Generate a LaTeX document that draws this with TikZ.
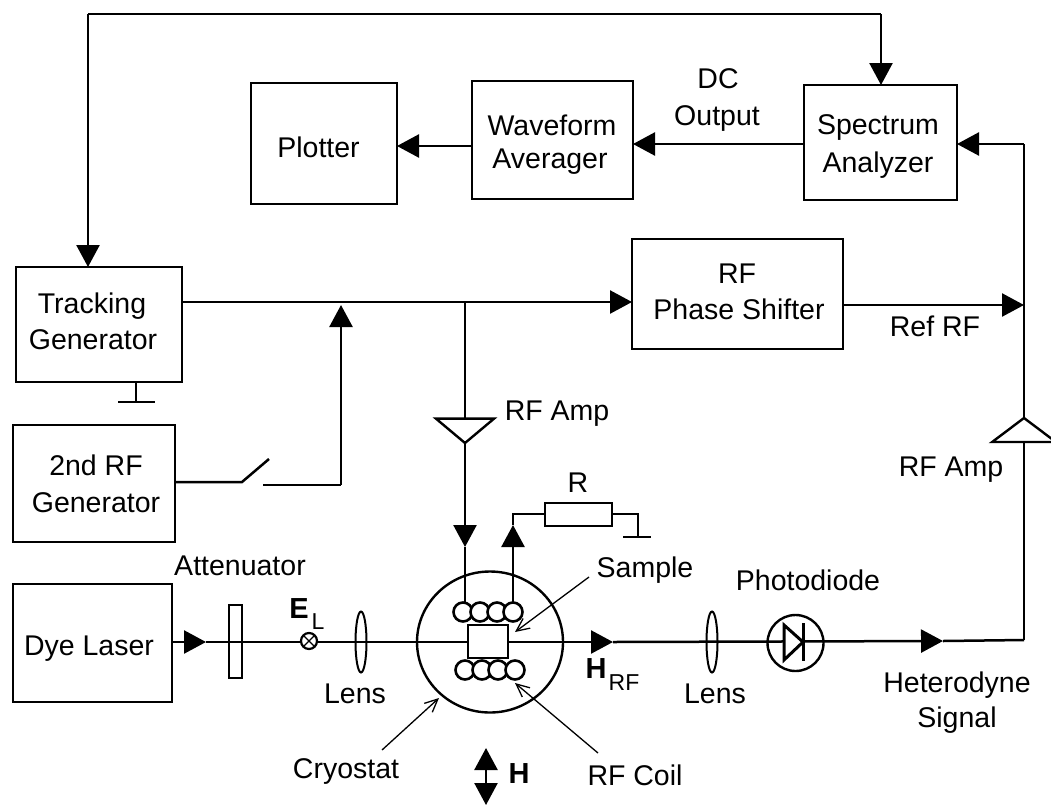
\documentclass[tikz,border=0pt]{standalone}
\usepackage{fontspec}
\setmainfont{Liberation Sans}
\usetikzlibrary{arrows.meta,shapes.geometric}
\tikzset{
  wire/.style={line width=2.5pt,draw=black},
  arr/.style={wire,-{Triangle[length=22pt,width=23pt]}},
  thin wire/.style={line width=1.3pt,draw=black},
  pointer/.style={thin wire,-{Straight Barb[length=13pt,width=12pt]}},
  box/.style={draw=black,line width=2.3pt,rectangle,inner sep=0pt,outer sep=0pt,fill=white},
  txt/.style={font=\fontsize{28.5}{28.5}\selectfont,inner sep=0pt,anchor=center,text height=20pt,text depth=0pt},
  bold/.style={font=\fontsize{29}{29}\selectfont\bfseries,inner sep=0pt,anchor=center,text height=21pt,text depth=0pt},
  small/.style={font=\fontsize{23}{23}\selectfont,inner sep=0pt,anchor=center,text height=16pt,text depth=0pt},
  coil/.style={circle,draw=black,line width=2.6pt,minimum size=19pt,inner sep=0pt,outer sep=0pt,fill=white},
  lens/.style={ellipse,draw=black,line width=2pt,inner sep=0pt,outer sep=0pt},
  amp/.style={isosceles triangle,draw=black,line width=2.4pt,fill=white,inner sep=0pt,outer sep=0pt,anchor=apex},
}
\newcommand{\rectnode}[5]{%
  \node[box,minimum width=#4pt-#2pt,minimum height=#5pt-#3pt] (#1) at ({(#2+#4)/2},{(#3+#5)/2}) {};}
\begin{document}
\begin{tikzpicture}[x=1pt,y=-1pt]
\useasboundingbox (0,0) rectangle (1051,806);
% ---- boxes
\rectnode{plot}{251}{83}{397}{204}
\rectnode{wave}{472}{81}{633}{199}
\rectnode{spec}{804}{85}{957}{200}
\rectnode{track}{16}{267}{182}{382}
\rectnode{phase}{632}{239}{843}{349}
\rectnode{second}{13}{425}{175}{542}
\rectnode{dye}{13}{584}{172}{702}
\node[txt] (tplot) at (318.5,147) {Plotter};
\node[txt] (twave1) at (552,125) {Waveform};
\node[txt] (twave2) at (550,158) {Averager};
\node[txt] (tspec1) at (878,124) {Spectrum};
\node[txt] (tspec2) at (878,162) {Analyzer};
\node[txt] (ttrack1) at (92,303) {Tracking};
\node[txt] (ttrack2) at (93,339) {Generator};
\node[txt] (tphase1) at (737,273) {RF};
\node[txt] (tphase2) at (739,309) {Phase Shifter};
\node[txt] (tsec1) at (96,465) {2nd RF};
\node[txt] (tsec2) at (96,502) {Generator};
\node[txt] (tdye) at (89,645) {Dye Laser};
% ---- coordinates
\coordinate (topL) at (88,14);
\coordinate (topR) at (881,14);
\coordinate (y146) at (0,146);
\coordinate (y144) at (0,144);
\coordinate (trunk) at (1024,640);
\coordinate (trunkTop) at (1024,144);
\coordinate (jRef) at (1024,305);
\coordinate (y302) at (0,302);
\coordinate (y305) at (0,305);
\coordinate (branch) at (465,302);
\coordinate (merge) at (341,305);
% ---- top feedback loop
\draw[wire] (topL) -- (topR);
\draw[arr] (topL) -- (topL |- track.north);
\draw[arr] (topR) -- (topR |- spec.north);
% ---- upper chain
\draw[arr] (spec.west |- y144) -- (wave.east |- y144);
\draw[arr] (wave.west |- y146) -- (plot.east |- y146);
\draw[wire] (track.east |- y302) -- (branch);
\draw[arr] (branch) -- (phase.west |- y302);
\draw[arr] (phase.east |- y305) -- (jRef);
% ---- ground under tracking generator
\coordinate (g1) at (136,402); \coordinate (g1a) at (118,402); \coordinate (g1b) at (155,402);
\draw[wire] (track.south -| g1) -- (g1);
\draw[wire] (g1a) -- (g1b);
% ---- 2nd generator and switch
\coordinate (sw1) at (242,482); \coordinate (sw2) at (269,459); \coordinate (sw3) at (263,485); \coordinate (sw4) at (341,485);
\draw[wire] (second.east |- sw1) -- (sw1) -- (sw2);
\draw[wire] (sw3) -- (sw4);
\draw[arr] (sw4) -- (merge);
% ---- RF amp (down)
\node[amp,isosceles triangle apex angle=100,shape border rotate=-90,minimum width=58pt,minimum height=24pt] (ampd) at (465,443) {};
\draw[wire] (branch) -- (branch |- ampd.north);
\coordinate (coilin) at (465,547);
\draw[arr] (ampd.apex) -- (coilin);
% ---- RF amp (up)
\node[amp,isosceles triangle apex angle=106,shape border rotate=90,minimum width=56pt,minimum height=24pt] (ampu) at (1024,418) {};
% ---- cryostat and beam
\node[ellipse,draw=black,line width=2.4pt,minimum width=146pt,minimum height=141pt,inner sep=0pt,outer sep=0pt] (cryo) at (490,642) {};
\coordinate (b0) at (206,642);
\coordinate (b1) at (613,642);
\coordinate (b2) at (943,641);
\draw[arr] (dye.east |- b0) -- (b0);
\draw[wire] (b0) -- (cryo.east |- b1);
\draw[arr] (cryo.east |- b1) -- (b1);
\draw[arr] (b1) -- (b2);
\draw[wire] (b2) -- (trunk);
\draw[wire] (trunk) -- (trunk |- ampu.south);
\draw[wire] (ampu.apex) -- (jRef);
\draw[wire] (jRef) -- (trunkTop);
\draw[arr] (trunkTop) -- (spec.east |- trunkTop);
% ---- attenuator
\node[rectangle,draw=black,line width=2.3pt,inner sep=0pt,outer sep=0pt,minimum width=13pt,minimum height=73pt] (att) at (235.5,641.5) {};
% ---- lenses, E field
\node[lens,minimum width=11pt,minimum height=61pt] (lens1) at (361,642) {};
\node[lens,minimum width=11pt,minimum height=61pt] (lens2) at (712,642) {};
\node[circle,draw=black,line width=2.2pt,fill=white,minimum size=16pt,inner sep=0pt,outer sep=0pt] (el) at (309,641) {};
\draw[thin wire] (el.north west) -- (el.south east) (el.north east) -- (el.south west);
% ---- sample & coils
\node[box,minimum width=40pt,minimum height=33pt] (samp) at (488,641.5) {};
\coordinate (ret) at (513,525); \coordinate (retc) at (513,514);
\draw[wire] (coilin) -- (465,604);
\node[coil] (c1) at (463,612) {};
\node[coil] (c2) at (480,612) {};
\node[coil] (c3) at (497,612) {};
\node[coil] (c4) at (513,612) {};
\node[coil] (d1) at (465,670) {};
\node[coil] (d2) at (482,670) {};
\node[coil] (d3) at (498,670) {};
\node[coil] (d4) at (515,670) {};
\draw[arr] (c4.north -| ret) -- (ret);
% ---- resistor
\node[box,minimum width=67pt,minimum height=23pt] (res) at (578.5,514.5) {};
\draw[wire] (ret) -- (retc) -- (res.west |- retc);
\coordinate (gr) at (638,514); \coordinate (gr2) at (638,537);
\coordinate (gra) at (623,537); \coordinate (grb) at (651,537);
\draw[wire] (res.east |- gr) -- (gr) -- (gr2);
\draw[wire] (gra) -- (grb);
% ---- photodiode
\coordinate (dA) at (784,625); \coordinate (dB) at (784,660); \coordinate (dC) at (803,642);
\coordinate (dD) at (803,623); \coordinate (dE) at (803,661);
\node[circle,draw=black,line width=2.4pt,minimum size=56pt,inner sep=0pt,outer sep=0pt] (pd) at (795.5,643) {};
\draw[line width=3pt,draw=black,fill=white,line join=miter] (dA) -- (dC) -- (dB) -- cycle;
\draw[line width=3pt,draw=black] (dD) -- (dE);
% ---- H double arrow
\coordinate (hT) at (486,748); \coordinate (hB) at (486,805); \coordinate (hM) at (486,777);
\draw[arr] (hM) -- (hT);
\draw[arr] (hM) -- (hB);
% ---- pointers
\coordinate (ps1) at (589,577); \coordinate (ps2) at (515,632);
\coordinate (pc1) at (598,753); \coordinate (pc2) at (515,683);
\coordinate (pk1) at (382,750); \coordinate (pk2) at (439,698);
\draw[pointer] (ps1) -- (ps2);
\draw[pointer] (pc1) -- (pc2);
\draw[pointer] (pk1) -- (pk2);
% ---- labels
\node[txt] (ldc) at (718,78) {DC};
\node[txt] (lout) at (717,115) {Output};
\node[txt] (lref) at (935,326) {Ref RF};
\node[txt] (lamp1) at (557,410) {RF Amp};
\node[txt] (lamp2) at (951,466) {RF Amp};
\node[txt] (lr) at (578,482) {R};
\node[txt] (lsam) at (645,567) {Sample};
\node[txt] (lpho) at (808,580) {Photodiode};
\node[txt] (latt) at (240,565) {Attenuator};
\node[txt] (llen1) at (355,693) {Lens};
\node[txt] (llen2) at (715,693) {Lens};
\node[txt] (lcry) at (346,768) {Cryostat};
\node[txt] (lcoil) at (635,775) {RF Coil};
\node[txt] (lhet) at (957,682) {Heterodyne};
\node[txt] (lsig) at (957,717) {Signal};
\node[bold] (le) at (299,608) {E};
\node[small] (lel) at (318,621) {L};
\node[bold] (lh) at (596,668) {H};
\node[small] (lhrf) at (624,682) {RF};
\node[bold] (lhh) at (519,773) {H};
\end{tikzpicture}
\end{document}
